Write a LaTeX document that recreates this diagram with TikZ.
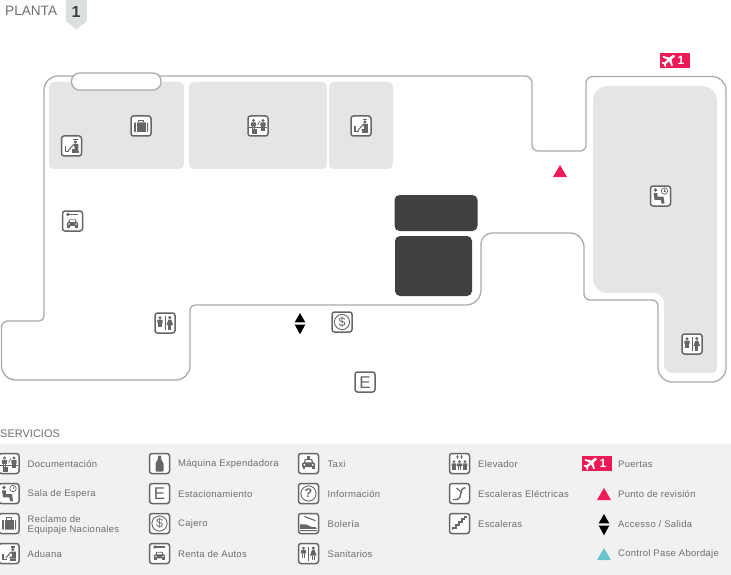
\documentclass[tikz,border=0pt]{standalone}
\usepackage{fontspec}
\setmainfont{Liberation Sans}
\newfontfamily\lblfont[LetterSpace=3]{Liberation Sans}
\usetikzlibrary{arrows.meta}
\definecolor{wallc}{HTML}{ABABAB}
\definecolor{zonec}{HTML}{E4E6E6}
\definecolor{tabc}{HTML}{DCDFDF}
\definecolor{darkc}{HTML}{404040}
\definecolor{bandc}{HTML}{F1F1F1}
\definecolor{iconc}{HTML}{666666}
\definecolor{textc}{HTML}{6E6E6E}
\definecolor{redc}{HTML}{EE1A55}
\definecolor{tealc}{HTML}{6CC5CC}
\newcommand{\crn}[6]{.. controls ({#1+0.55*(#3-#1)},{#2+0.55*(#4-#2)}) and ({#5+0.55*(#3-#5)},{#6+0.55*(#4-#6)}) .. (#5,#6)}
\newcommand{\fig}[3]{% x, y, scale
  \fill[iconc] (#1,#2-4*#3) circle (1.7*#3);
  \fill[iconc,rounded corners=0.6pt] (#1-2.7*#3,#2-2*#3) rectangle (#1+2.7*#3,#2+1.8*#3);
  \fill[iconc] (#1-1.9*#3,#2+1.6*#3) rectangle (#1-0.15*#3,#2+6.2*#3);
  \fill[iconc] (#1+0.15*#3,#2+1.6*#3) rectangle (#1+1.9*#3,#2+6.2*#3);
}
\newcommand{\carshape}[3]{% x, y, scale
  \begin{scope}[shift={(#1,#2)},scale=#3]
  \fill[iconc] (-6.5,4) -- (-6.5,0.5) -- (-4.8,-0.5) -- (-3.6,-3.8) -- (3.6,-3.8) -- (4.8,-0.5) -- (6.5,0.5) -- (6.5,4) -- cycle;
  \fill[white] (-2.6,-2.8) -- (2.6,-2.8) -- (3.3,-0.6) -- (-3.3,-0.6) -- cycle;
  \fill[iconc] (-6,4) rectangle (-3.4,6);
  \fill[iconc] (3.4,4) rectangle (6,6);
  \fill[white] (-4.2,1.8) circle (1);
  \fill[white] (4.2,1.8) circle (1);
  \end{scope}
}
\tikzset{
  x=1pt,y=-1pt,
  wall/.style={draw=wallc,line width=1.3pt},
  zone/.style={fill=zonec,rounded corners=5pt},
  darkblock/.style={fill=darkc,rounded corners=5pt},
  lbl/.style={anchor=west,inner sep=0pt,text=textc,font=\fontsize{9.5}{10}\lblfont,align=left},
  sym/.style={inner sep=0pt,text=iconc},
  frm/.pic={\draw[iconc,fill=white,line width=1.5pt,rounded corners=2.5pt] (-10,-10) rectangle (10,10);},
  docic/.pic={\pic{frm};
    \fig{-4.5}{-1.5}{1}\fig{5}{-1.5}{1}
    \draw[iconc,line width=1pt] (-9,2) -- (9,2);
    \fill[iconc] (-6.5,3) rectangle (-1,8);
    \draw[iconc,line width=0.7pt] (-0.5,-1) -- (2,-5);},
  waitic/.pic={\pic{frm};
    \fill[iconc] (-5,-6) circle (1.9);
    \fill[iconc] (-7,-3.2) -- (-3.2,-3.2) -- (-2.8,0.6) -- (3,0.6) -- (4,7.5) -- (1,7.5) -- (0.3,3.8) -- (-6,3.8) -- cycle;
    \draw[iconc,line width=0.7pt] (4,-5) circle (3.2);
    \draw[iconc,line width=0.5pt] (4,-6.6) -- (4,-5) -- (5.4,-5);},
  bagic/.pic={\pic{frm};
    \fill[iconc,rounded corners=0.8pt] (-7,-3.5) rectangle (7,6);
    \draw[iconc,line width=1pt] (-2.5,-3.5) -- (-2.5,-5.8) -- (2.5,-5.8) -- (2.5,-3.5);
    \draw[white,line width=0.45pt] (-4.8,-3.5) -- (-4.8,6) (4.8,-3.5) -- (4.8,6);},
  aduic/.pic={\pic{frm};
    \fill[iconc] (-7,0.5) rectangle (-5.4,5.5);
    \fill[iconc] (-7,5) rectangle (-2.5,6.5);
    \fill[iconc] (0.5,5) rectangle (7,7);
    \fill[iconc] (1.8,-7.2) rectangle (6,-6);
    \fill[iconc] (3.8,-4) circle (1.7);
    \fill[iconc] (1.5,-2) -- (6.8,-2) -- (6.8,5) -- (0.5,5) -- (0.5,3.2) -- (3.2,3.2) -- (3.2,1.4) -- cycle;
    \draw[iconc,line width=1pt] (-3.2,4.6) -- (1.8,-1.2);},
  bottleic/.pic={\pic{frm};
    \fill[iconc,rounded corners=0.8pt] (-1.6,-8) -- (1.6,-8) -- (1.8,-3.5) -- (4,-0.5) -- (4,8) -- (-4,8) -- (-4,-0.5) -- (-1.8,-3.5) -- cycle;},
  eic/.pic={\pic{frm};\node[sym,font=\fontsize{17}{17}\selectfont] (e) at (0,0.2) {E};},
  cashic/.pic={\pic{frm};\draw[iconc,line width=0.9pt] (0,0) circle (7.6);\node[sym,font=\fontsize{12.5}{12}\selectfont] (d) at (0,0) {\$};},
  rentic/.pic={\pic{frm};
    \fill[iconc] (-4.6,-6.6) circle (1.8);
    \fill[iconc] (-3.5,-7.3) rectangle (5.5,-5.9);
    \carshape{0}{1.5}{0.85}},
  taxiic/.pic={\pic{frm};
    \fill[iconc] (-1.6,-7.2) rectangle (1.6,-5);
    \carshape{0}{-0.5}{1}},
  infoic/.pic={\pic{frm};\draw[iconc,line width=0.9pt] (0,0) circle (7.6);\node[sym,font=\fontsize{12.5}{12}\bfseries] (q) at (0,0) {?};},
  shoeic/.pic={\pic{frm};
    \draw[iconc,line width=1.1pt] (-4,-7) -- (7,-2.8);
    \fill[iconc] (-8.5,1) -- (-2.5,0.8) -- (2.5,3.2) -- (7.5,3.8) -- (8.5,6) -- (8.5,7.5) -- (-8.5,7.5) -- cycle;
    \draw[white,line width=0.5pt] (-8.5,5.6) -- (8.5,5.6);},
  wcic/.pic={\pic{frm};
    \fig{-5}{-1.5}{0.95}
    \draw[iconc,line width=0.7pt] (0,-7) -- (0,7);
    \fill[iconc] (4.8,-5.4) circle (1.7);
    \fill[iconc] (3.4,-3.4) -- (6.2,-3.4) -- (8.2,2.2) -- (1.4,2.2) -- cycle;
    \fill[iconc] (3.2,2) rectangle (4.6,6.8);
    \fill[iconc] (5,2) rectangle (6.4,6.8);},
  elevic/.pic={\pic{frm};
    \fig{-5.5}{1.5}{0.85}\fig{0}{1.5}{0.85}\fig{5.5}{1.5}{0.85}
    \draw[iconc,line width=0.7pt,-{Stealth[length=2.2pt,width=2.8pt]}] (-2,-4.8) -- (-2,-8.4);
    \draw[iconc,line width=0.7pt,-{Stealth[length=2.2pt,width=2.8pt]}] (2,-8.4) -- (2,-4.8);},
  escalic/.pic={\pic{frm};
    \draw[iconc,line width=1.4pt] (-6.5,6) -- (-2.5,6) .. controls (0,6) and (0.5,3.5) .. (1.3,0) .. controls (1.8,-3) and (2.5,-5.5) .. (6,-5.8);
    \draw[iconc,line width=1.1pt] (-3,-5.5) -- (1.2,-2);},
  stairic/.pic={\pic{frm};
    \draw[iconc,line width=1.6pt] (-7,6.5) -- (-7,4.2) -- (-3.8,4.2) -- (-3.8,1.2) -- (-0.8,1.2) -- (-0.8,-1.6) -- (2.2,-1.6) -- (2.2,-4.4) -- (5,-4.4) -- (5,-6.8) -- (7,-6.8);},
  planeic/.pic={
    \fill[white] (5.8,-5) -- (6.6,-4.2) -- (3,-1) -- (4.3,5) -- (3,5.6) -- (0.6,0.8) -- (-2.6,3.6) -- (-2.3,6.1) -- (-3.4,6.6) -- (-4.6,3.8) -- (-7,2.6) -- (-6.5,1.6) -- (-4,1.7) -- (-0.8,-0.8) -- (-6,-3.2) -- (-5.4,-4.5) -- (1,-3) -- (4.4,-5.6) -- cycle;},
  gate/.pic={
    \fill[redc] (-15,-7.5) rectangle (15,7.5);
    \pic at (-6.5,0) {planeic};
    \node[inner sep=0pt,text=white,font=\fontsize{12}{12}\bfseries] (n) at (6,0.2) {1};},
  accs/.pic={
    \fill[black] (-5.3,-1.2) -- (0,-10.5) -- (5.3,-1.2) -- cycle;
    \fill[black] (-5.3,1) -- (0,10.8) -- (5.3,1) -- cycle;},
}
\begin{document}
\begin{tikzpicture}
\useasboundingbox (0,0) rectangle (731,575);
% header
\node[anchor=west,inner sep=0pt,text=textc,font=\fontsize{13.6}{14}\selectfont] (planta) at (5,10.5) {PLANTA};
\fill[tabc] (66,0) -- (87,0) -- (87,21) -- (76.5,29.5) -- (66,21) -- cycle;
\node[inner sep=0pt,text=darkc,font=\fontsize{16}{16}\bfseries] (num) at (76,11.5) {1};
% zones
\fill[zone] (49,82) rectangle (184,169);
\fill[zone] (189,82) rectangle (327,169);
\fill[zone] (329,82) rectangle (393,169);
\fill[zonec] (593,100) \crn{593}{100}{593}{86}{607}{86} -- (702,86) \crn{702}{86}{717}{86}{717}{101}
  -- (717,368) \crn{717}{368}{717}{373}{712}{373} -- (672,373) \crn{672}{373}{664}{373}{664}{365}
  -- (664,303) \crn{664}{303}{664}{293}{654}{293} -- (607,293) \crn{607}{293}{593}{293}{593}{279} -- cycle;
% walls
\draw[wall] (58,76) -- (525,76) \crn{525}{76}{532}{76}{532}{83}
  -- (532,145) \crn{532}{145}{532}{151}{538}{151}
  -- (580,151) \crn{580}{151}{586}{151}{586}{145}
  -- (586,83) \crn{586}{83}{586}{76.5}{593}{76.5}
  -- (712,76.5) \crn{712}{76.5}{726}{76.5}{726}{90}
  -- (726,368) \crn{726}{368}{726}{382}{712}{382}
  -- (672,382) \crn{672}{382}{658}{382}{658}{368}
  -- (658,306) \crn{658}{306}{658}{300}{652}{300}
  -- (590,300) \crn{590}{300}{584}{300}{584}{294}
  -- (584,247) \crn{584}{247}{584}{233}{570}{233}
  -- (492,233) \crn{492}{233}{481}{233}{481}{244}
  -- (481,290) \crn{481}{290}{481}{305}{466}{305}
  -- (195,305) \crn{195}{305}{190}{305}{190}{310}
  -- (190,366) \crn{190}{366}{190}{380}{176}{380}
  -- (16,380) \crn{16}{380}{1.5}{380}{1.5}{366}
  -- (1.5,327) \crn{1.5}{327}{1.5}{321}{8}{321}
  -- (39,321) \crn{39}{321}{44}{321}{44}{316}
  -- (44,90) \crn{44}{90}{44}{76}{58}{76} -- cycle;
\draw[wall,fill=white,rounded corners=8pt] (71.5,73) rectangle (161,90);
% dark blocks
\fill[darkblock] (394.5,195) rectangle (477.5,231);
\fill[darkblock] (395,236) rectangle (472,296);
% map icons
\pic at (71.5,146) {aduic};
\pic at (141,126) {bagic};
\pic at (258,126) {docic};
\pic at (361,126) {aduic};
\pic at (72.5,221) {rentic};
\pic at (660.5,196) {waitic};
\pic at (692,344) {wcic};
\pic at (165,323) {wcic};
\pic at (342,322) {cashic};
\pic at (365,382) {eic};
\pic at (300,323.5) {accs};
\pic at (675,60.5) {gate};
\fill[redc] (553,177) -- (560,165) -- (567,177) -- cycle;
% legend
\node[anchor=west,inner sep=0pt,text=textc,font=\fontsize{11}{11}\selectfont] (serv) at (0,433.5) {SERVICIOS};
\fill[bandc] (0,444) rectangle (731,575);
\pic at (9,463.5) {docic};
\pic at (9,493.5) {waitic};
\pic at (9,523.5) {bagic};
\pic at (9,553.5) {aduic};
\pic at (159.5,463.5) {bottleic};
\pic at (159.5,493.5) {eic};
\pic at (159.5,523.5) {cashic};
\pic at (159.5,553.5) {rentic};
\pic at (308.5,463.5) {taxiic};
\pic at (308.5,493.5) {infoic};
\pic at (308.5,523.5) {shoeic};
\pic at (308.5,553.5) {wcic};
\pic at (459.5,463.5) {elevic};
\pic at (459.5,493.5) {escalic};
\pic at (459.5,523.5) {stairic};
\pic at (597,463.5) {gate};
\fill[redc] (597,500) -- (604,488) -- (611,500) -- cycle;
\pic at (604,524.5) {accs};
\fill[tealc] (597,560) -- (604,548) -- (611,560) -- cycle;
\node[lbl] (l1) at (27.5,464) {Documentación};
\node[lbl] (l2) at (27.5,494.5) {Sala de Espera};
\node[lbl,text depth=0pt] (l3) at (27.5,524) {Reclamo de\\Equipaje Nacionales};
\node[lbl] (l4) at (27.5,554.5) {Aduana};
\node[lbl] (l5) at (178,464) {Máquina Expendadora};
\node[lbl] (l6) at (178,494.5) {Estacionamiento};
\node[lbl] (l7) at (178,524.5) {Cajero};
\node[lbl] (l8) at (178,554.5) {Renta de Autos};
\node[lbl] (l9) at (327.5,464) {Taxi};
\node[lbl] (l10) at (327.5,494.5) {Información};
\node[lbl] (l11) at (327.5,524.5) {Bolería};
\node[lbl] (l12) at (327.5,554.5) {Sanitarios};
\node[lbl] (l13) at (478,464) {Elevador};
\node[lbl] (l14) at (478,494.5) {Escaleras Eléctricas};
\node[lbl] (l15) at (478,524.5) {Escaleras};
\node[lbl] (l16) at (618,464) {Puertas};
\node[lbl] (l17) at (618,494.5) {Punto de revisión};
\node[lbl] (l18) at (618,524.5) {Accesso / Salida};
\node[lbl] (l19) at (618,554.5) {Control Pase Abordaje};
\end{tikzpicture}
\end{document}
